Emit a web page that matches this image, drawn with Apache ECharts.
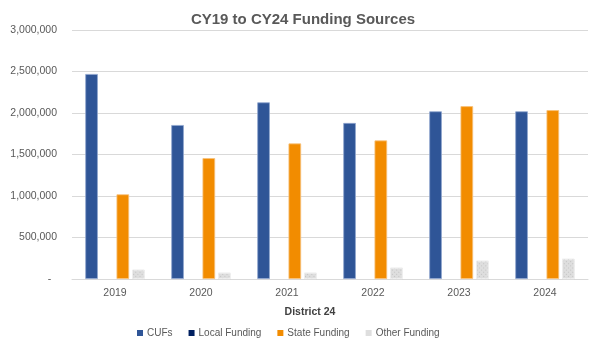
<!DOCTYPE html>
<html><head><meta charset="utf-8">
<script src="https://cdn.jsdelivr.net/npm/echarts@6/dist/echarts.min.js"></script>
<style>html,body{margin:0;padding:0;background:#fff}#c{width:600px;height:349px}</style>
</head><body><div id="c"></div>
<script>
const categories = ['2019', '2020', '2021', '2022', '2023', '2024'];
const cufs = [2470000, 1855000, 2128000, 1880000, 2020000, 2020000];
const localFunding = [0, 0, 0, 0, 0, 0];
const stateFunding = [1020000, 1456000, 1633000, 1669000, 2082000, 2034000];
const otherFunding = [112000, 76000, 76000, 136000, 220000, 244000];
const seriesNames = ['CUFs', 'Local Funding', 'State Funding', 'Other Funding'];

const FONT = '"Liberation Sans", Arial, sans-serif';
const chart = echarts.init(document.getElementById('c'), null, {renderer: 'canvas'});
const barBase = {type: 'bar', barWidth: 12.6, barGap: '24%'};
chart.setOption({
  animation: false,
  title: [
    {text: 'CY19 to CY24 Funding Sources', left: 298, textAlign: 'center', top: 7,
     textStyle: {fontFamily: FONT, fontSize: 15, fontWeight: 'bold', color: '#595959'}},
    {text: 'District 24', left: 305, textAlign: 'center', top: 302,
     textStyle: {fontFamily: FONT, fontSize: 10.5, fontWeight: 'bold', color: '#404040'}}
  ],
  legend: {
    left: 132, top: 323, itemWidth: 6, itemHeight: 6, itemGap: 16,
    icon: 'rect',
    itemStyle: {borderWidth: 0, decal: 'none'},
    textStyle: {fontFamily: FONT, fontSize: 10, color: '#595959', padding: [0, 0, 0, -1]},
    data: seriesNames
  },
  grid: {left: 72, right: 12, top: 30, bottom: 70, containLabel: false},
  xAxis: {
    type: 'category', data: categories,
    axisLine: {lineStyle: {color: '#d9d9d9'}},
    axisTick: {show: false},
    axisLabel: {fontFamily: FONT, fontSize: 10.5, color: '#595959', margin: 9}
  },
  yAxis: {
    type: 'value', min: 0, max: 3000000, interval: 500000,
    axisLine: {show: false}, axisTick: {show: false},
    splitLine: {lineStyle: {color: '#d9d9d9'}},
    axisLabel: {fontFamily: FONT, fontSize: 10.5, color: '#595959', margin: 15,
      formatter: v => v === 0 ? '-  ' : v.toLocaleString('en-US')}
  },
  series: [
    Object.assign({}, barBase, {name: seriesNames[0], data: cufs,
      itemStyle: {color: '#2F5597', borderColor: '#8FA6CF', borderWidth: 0.8}}),
    Object.assign({}, barBase, {name: seriesNames[1], data: localFunding,
      itemStyle: {color: '#002060'}}),
    Object.assign({}, barBase, {name: seriesNames[2], data: stateFunding,
      itemStyle: {color: '#F28C00', borderColor: '#F8C27A', borderWidth: 0.8}}),
    Object.assign({}, barBase, {name: seriesNames[3], data: otherFunding,
      itemStyle: {color: '#DEDEDE', borderColor: '#EDEDED', borderWidth: 0.8,
        decal: {symbol: 'rect', symbolSize: 1, dashArrayX: [1, 2], dashArrayY: [1, 2], rotation: Math.PI / 4, color: '#C4C4C4'}}})
  ]
});
</script></body></html>
